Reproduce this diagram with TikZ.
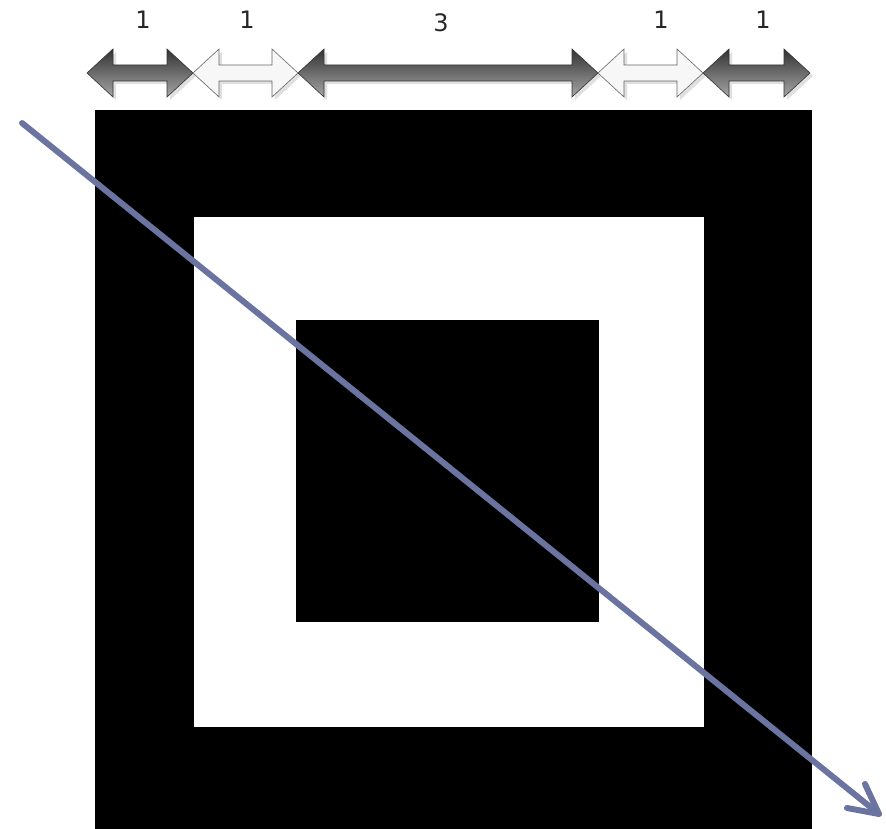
\documentclass[tikz,border=0pt]{standalone}
\usepackage{fontspec}
\setmainfont{DejaVu Sans}
\begin{document}
\begin{tikzpicture}[x=1pt,y=-1pt,
  darkarrow/.style={draw=black!80, line width=0.6pt, top color=black!80, bottom color=black!35},
  lightarrow/.style={draw=black!60, line width=0.6pt, fill=black!3},
  shadowarrow/.style={fill=black!12, draw=none},
  lbl/.style={font=\fontsize{24}{28}\selectfont, inner sep=0pt, text=black!85},
  pointer/.style={draw={rgb,255:red,107;green,116;blue,160}, line width=6pt, line cap=round, line join=round}]
\useasboundingbox (0,0) rectangle (886,829);
\newcommand\dblarrow[3]{%
  \path[shadowarrow] (#2+3,76) -- (#2+29,52) -- (#2+29,68) -- (#3-23,68) -- (#3-23,52) -- (#3+3,76) -- (#3-23,100) -- (#3-23,84) -- (#2+29,84) -- (#2+29,100) -- cycle;
  \path[#1] (#2,73) -- (#2+26,49) -- (#2+26,65) -- (#3-26,65) -- (#3-26,49) -- (#3,73) -- (#3-26,97) -- (#3-26,81) -- (#2+26,81) -- (#2+26,97) -- cycle;}
% squares
\fill[black] (95,110) rectangle (812,829);
\fill[white] (194,217) rectangle (704,727);
\fill[black] (296,320) rectangle (599,622);
% dimension arrows
\dblarrow{darkarrow}{87}{193}
\dblarrow{lightarrow}{193}{298}
\dblarrow{darkarrow}{298}{598}
\dblarrow{lightarrow}{598}{703}
\dblarrow{darkarrow}{703}{810}
% labels
\node[lbl] (l1) at (143,20) {1};
\node[lbl] (l2) at (247,20) {1};
\node[lbl] (l3) at (441,23) {3};
\node[lbl] (l4) at (661,20) {1};
\node[lbl] (l5) at (763,20) {1};
% diagonal pointer
\coordinate (start) at (22,123);
\coordinate (tip) at (879,814);
\coordinate (barbA) at (865,784);
\coordinate (barbB) at (847,808);
\draw[pointer] (start) -- (tip);
\draw[pointer] (barbA) -- (tip) -- (barbB);
\end{tikzpicture}
\end{document}
